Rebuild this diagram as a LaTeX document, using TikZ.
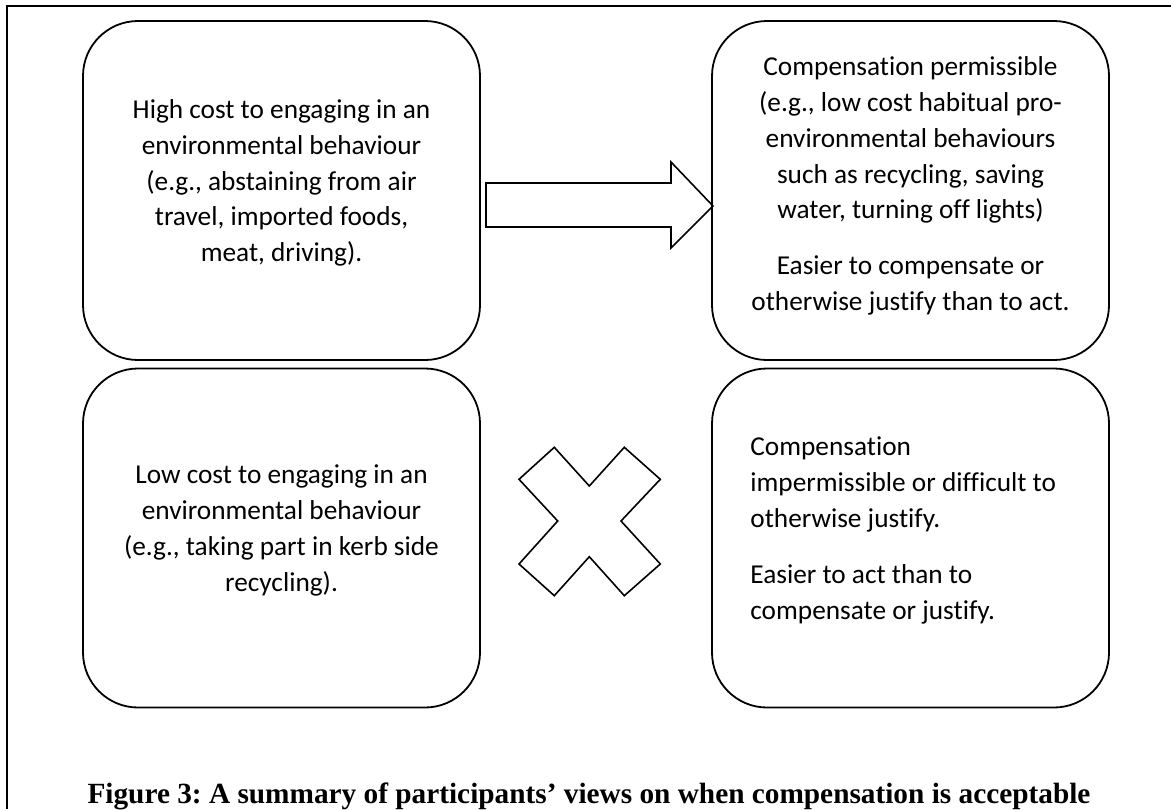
\documentclass[tikz,border=0pt]{standalone}
\usepackage{fontspec}
\setmainfont{Carlito}[Ligatures=NoCommon]
\newfontfamily\captionfont{Liberation Serif}
\usepackage{tikz}
\usetikzlibrary{positioning,calc}
\frenchspacing

\begin{document}
\begin{tikzpicture}[
    x=0.5pt, y=-0.5pt,
    box/.style={draw, line width=0.9pt, rounded corners=27.5pt, minimum width=198.5pt, minimum height=169.5pt},
    txt/.style={inner sep=0pt, font=\fontsize{13.65}{17.9}\selectfont},
    outline/.style={draw, line width=0.8pt, line join=miter}
]
\useasboundingbox (0,0) rectangle (1171,809);

% frame
\draw[line width=1pt] (7,809) -- (7,6) -- (1171,6);

% high cost
\node[box] (highcost) at (281.5,190.5) {};
\node[txt, align=center] (hightext) at (281.5,183) {High cost to engaging in an\\environmental behaviour\\(e.g., abstaining from air\\travel, imported foods,\\meat, driving).};

% compensation ok
\node[box] (permit) at (910.5,190.5) {};
\node[txt, align=center] (permittext) at (910.5,186) {Compensation permissible\\(e.g., low cost habitual pro-\\environmental behaviours\\such as recycling, saving\\water, turning off lights)\\[10pt]Easier to compensate or\\otherwise justify than to act.};

% low cost
\node[box] (lowcost) at (281.5,538) {};
\node[txt, align=center] (lowtext) at (281.5,530.5) {Low cost to engaging in an\\environmental behaviour\\(e.g., taking part in kerb side\\recycling).};

% compensation not ok
\node[box] (nopermit) at (910.5,538) {};
\node[txt, align=left, anchor=west] (nopermittext) at (750,530.5) {Compensation\\impermissible or difficult to\\otherwise justify.\\[10pt]Easier to act than to\\compensate or justify.};

% block arrow
\draw[outline] (486,183) -- (671,183) -- (671,162) -- (713,206) -- (671,248) -- (671,227) -- (486,227) -- cycle;

% cross
\draw[outline] (554.3,447.3) -- (589.3,486) -- (624.3,447.3) -- (660.3,479.3) -- (621,521) -- (660.3,564)
    -- (624.3,595.7) -- (589.3,556.7) -- (554.3,595.7) -- (519,564) -- (557.7,521) -- (519,479.3) -- cycle;

% caption
\node[anchor=base, inner sep=0pt, font=\captionfont\bfseries\fontsize{14.65}{17}\selectfont] (caption) at (589,803)
    {Figure 3: A summary of participants’ views on when compensation is acceptable};
\end{tikzpicture}
\end{document}
